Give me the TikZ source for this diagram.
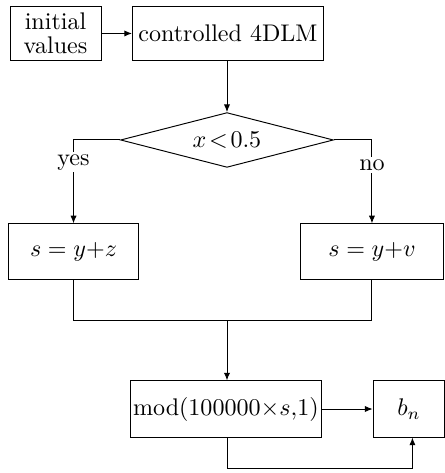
\documentclass[tikz,border=0pt]{standalone}
\usepackage{amsmath}
\usetikzlibrary{shapes.geometric, arrows.meta, positioning}

\tikzset{
  kotak/.style={draw, rectangle, inner sep=1pt, align=center},
  cabang/.style={draw, diamond, aspect=3.9, inner sep=0pt, minimum width=3.11cm, minimum height=0.8cm},
  panah/.style={-{Latex[length=3.2pt,width=2.6pt]}},
  label/.style={fill=white, inner sep=1pt}
}

\begin{document}
\begin{tikzpicture}
  \useasboundingbox (0,0) rectangle (6.5,-6.91);

  % Kotak awal dan model
  \node[kotak, minimum width=1.33cm, minimum height=0.8cm] (awal) at (0.811,-0.489) {initial\\[-2pt]values};
  \node[kotak, minimum width=2.79cm, minimum height=0.8cm] (model) at (3.33,-0.489) {controlled 4DLM};

  % Keputusan
  \node[cabang] (uji) at (3.316,-2.045) {$x\!<\!0.5$};

  % Dua cabang
  \node[kotak, minimum width=1.91cm, minimum height=0.82cm] (ya) at (1.074,-3.68) {$s=y{+}z$};
  \node[kotak, minimum width=2.10cm, minimum height=0.82cm] (tidak) at (5.434,-3.68) {$s=y{+}v$};

  % Keluaran
  \node[kotak, minimum width=2.72cm, minimum height=0.82cm] (modbox) at (3.30,-5.975) {$\mathrm{mod}(100000{\times}s{,}1)$};
  \node[kotak, minimum width=1.05cm, minimum height=0.82cm] (bn) at (5.975,-5.975) {$b_n$};

  \coordinate (gabung) at (3.316,-4.675);
  \coordinate (bawah) at (3.316,-6.85);

  % Garis penghubung
  \draw[panah] (awal) -- (model);
  \draw[panah] (model.south -| uji.north) -- (uji.north);
  \draw[panah] (uji.west) -| node[label, pos=0.633] {yes} (ya.north);
  \draw[panah] (uji.east) -| node[label, pos=0.65] {no} (tidak.north);
  \draw (ya.south) |- (gabung) -| (tidak.south);
  \draw[panah] (gabung) -- (gabung |- modbox.north);
  \draw[panah] (modbox) -- (bn);
  \draw[panah] (modbox.south -| bawah) |- (bawah) -| ([xshift=0.05cm]bn.south);
\end{tikzpicture}
\end{document}
